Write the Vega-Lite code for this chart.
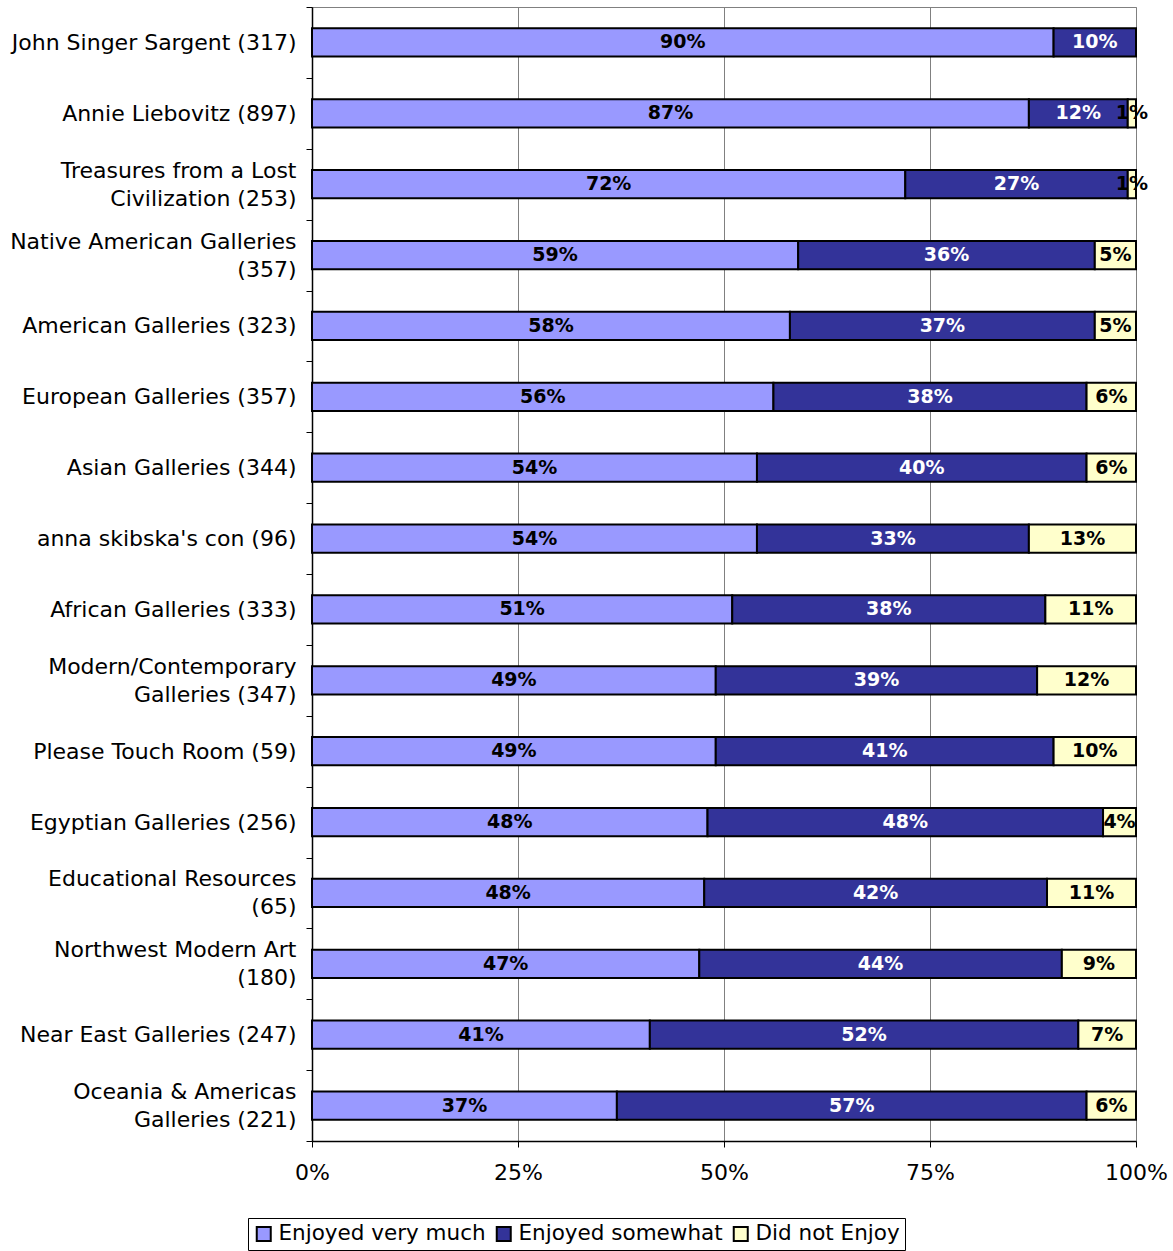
{
  "$schema": "https://vega.github.io/schema/vega-lite/v6.json",
  "width": 824,
  "height": 1134,
  "autosize": {"type": "none"},
  "padding": {"left": 312, "top": 7, "right": 37, "bottom": 110},
  "background": "white",
  "config": {
    "font": "DejaVu Sans",
    "view": {"stroke": "#808080", "strokeWidth": 1}
  },
  "data": {
    "values": [
      {"gallery": "John Singer Sargent (317)", "Enjoyed very much": 90, "Enjoyed somewhat": 10, "Did not Enjoy": 0},
      {"gallery": "Annie Liebovitz (897)", "Enjoyed very much": 87, "Enjoyed somewhat": 12, "Did not Enjoy": 1},
      {"gallery": "Treasures from a Lost Civilization (253)", "Enjoyed very much": 72, "Enjoyed somewhat": 27, "Did not Enjoy": 1},
      {"gallery": "Native American Galleries (357)", "Enjoyed very much": 59, "Enjoyed somewhat": 36, "Did not Enjoy": 5},
      {"gallery": "American Galleries (323)", "Enjoyed very much": 58, "Enjoyed somewhat": 37, "Did not Enjoy": 5},
      {"gallery": "European Galleries (357)", "Enjoyed very much": 56, "Enjoyed somewhat": 38, "Did not Enjoy": 6},
      {"gallery": "Asian Galleries (344)", "Enjoyed very much": 54, "Enjoyed somewhat": 40, "Did not Enjoy": 6},
      {"gallery": "anna skibska's con (96)", "Enjoyed very much": 54, "Enjoyed somewhat": 33, "Did not Enjoy": 13},
      {"gallery": "African Galleries (333)", "Enjoyed very much": 51, "Enjoyed somewhat": 38, "Did not Enjoy": 11},
      {"gallery": "Modern/Contemporary Galleries (347)", "Enjoyed very much": 49, "Enjoyed somewhat": 39, "Did not Enjoy": 12},
      {"gallery": "Please Touch Room (59)", "Enjoyed very much": 49, "Enjoyed somewhat": 41, "Did not Enjoy": 10},
      {"gallery": "Egyptian Galleries (256)", "Enjoyed very much": 48, "Enjoyed somewhat": 48, "Did not Enjoy": 4},
      {"gallery": "Educational Resources (65)", "Enjoyed very much": 47.6, "Enjoyed somewhat": 41.6, "Did not Enjoy": 10.8},
      {"gallery": "Northwest Modern Art (180)", "Enjoyed very much": 47, "Enjoyed somewhat": 44, "Did not Enjoy": 9},
      {"gallery": "Near East Galleries (247)", "Enjoyed very much": 41, "Enjoyed somewhat": 52, "Did not Enjoy": 7},
      {"gallery": "Oceania & Americas Galleries (221)", "Enjoyed very much": 37, "Enjoyed somewhat": 57, "Did not Enjoy": 6}
    ]
  },
  "transform": [
    {"fold": ["Enjoyed very much", "Enjoyed somewhat", "Did not Enjoy"], "as": ["response", "pct"]},
    {"filter": "datum.pct > 0"},
    {"calculate": "indexof(['Enjoyed very much', 'Enjoyed somewhat', 'Did not Enjoy'], datum.response)", "as": "k"},
    {"stack": "pct", "groupby": ["gallery"], "sort": [{"field": "k", "order": "ascending"}], "as": ["p0", "p1"]},
    {"calculate": "(datum.p0 + datum.p1) / 2", "as": "pm"},
    {"calculate": "format(datum.pct, '.0f') + '%'", "as": "lbl"}
  ],
  "encoding": {
    "y": {
      "field": "gallery",
      "type": "nominal",
      "sort": null,
      "title": null,
      "scale": {"paddingInner": 0, "paddingOuter": 0},
      "axis": {
        "domainColor": "black",
        "domainWidth": 1.5,
        "tickColor": "black",
        "tickSize": 6,
        "tickBand": "extent",
        "labelFontSize": 22,
        "labelColor": "black",
        "labelPadding": 10,
        "labelLineHeight": 28,
        "labelLimit": 400,
        "labelOffset": {
          "condition": {
            "test": "indexof(['Treasures from a Lost Civilization (253)', 'Native American Galleries (357)', 'Modern/Contemporary Galleries (347)', 'Educational Resources (65)', 'Northwest Modern Art (180)', 'Oceania & Americas Galleries (221)'], datum.value) >= 0",
            "value": -14
          },
          "value": 0
        },
        "labelExpr": "datum.value == 'Treasures from a Lost Civilization (253)' ? ['Treasures from a Lost', 'Civilization (253)'] : datum.value == 'Native American Galleries (357)' ? ['Native American Galleries', '(357)'] : datum.value == 'Modern/Contemporary Galleries (347)' ? ['Modern/Contemporary', 'Galleries (347)'] : datum.value == 'Educational Resources (65)' ? ['Educational Resources', '(65)'] : datum.value == 'Northwest Modern Art (180)' ? ['Northwest Modern Art', '(180)'] : datum.value == 'Oceania & Americas Galleries (221)' ? ['Oceania & Americas', 'Galleries (221)'] : datum.value"
      }
    }
  },
  "layer": [
    {
      "mark": {"type": "bar", "stroke": "black", "strokeWidth": 2, "height": {"band": 0.4}},
      "encoding": {
        "x": {
          "field": "p0",
          "type": "quantitative",
          "scale": {"domain": [0, 100], "nice": false},
          "title": null,
          "axis": {
            "values": [0, 25, 50, 75, 100],
            "labelExpr": "datum.value + '%'",
            "labelFontSize": 22,
            "labelColor": "black",
            "labelPadding": 15,
            "labelFlush": false,
            "domainColor": "black",
            "domainWidth": 1.5,
            "tickColor": "black",
            "tickSize": 6,
            "gridColor": "#808080",
            "gridWidth": 1,
            "gridOpacity": 1
          }
        },
        "x2": {"field": "p1"},
        "color": {
          "field": "response",
          "type": "nominal",
          "scale": {
            "domain": ["Enjoyed very much", "Enjoyed somewhat", "Did not Enjoy"],
            "range": ["#9999FF", "#333399", "#FFFFCC"]
          },
          "legend": {
            "title": null,
            "orient": "none",
            "direction": "horizontal",
            "legendX": -64,
            "legendY": 1211,
            "padding": 5,
            "strokeColor": "black",
            "fillColor": "white",
            "labelFontSize": 21.5,
            "labelColor": "black",
            "labelLimit": 400,
            "labelOffset": 4,
            "columnPadding": 6,
            "symbolType": "square",
            "symbolSize": 196,
            "symbolStrokeColor": "black",
            "symbolStrokeWidth": 2,
            "symbolOpacity": 1
          }
        }
      }
    },
    {
      "mark": {"type": "text", "fontSize": 19, "fontWeight": "bold", "align": "center", "baseline": "middle"},
      "encoding": {
        "x": {"field": "pm", "type": "quantitative"},
        "text": {"field": "lbl"},
        "color": {
          "condition": {"test": "datum.response == 'Enjoyed somewhat'", "value": "white"},
          "value": "black"
        }
      }
    }
  ]
}
